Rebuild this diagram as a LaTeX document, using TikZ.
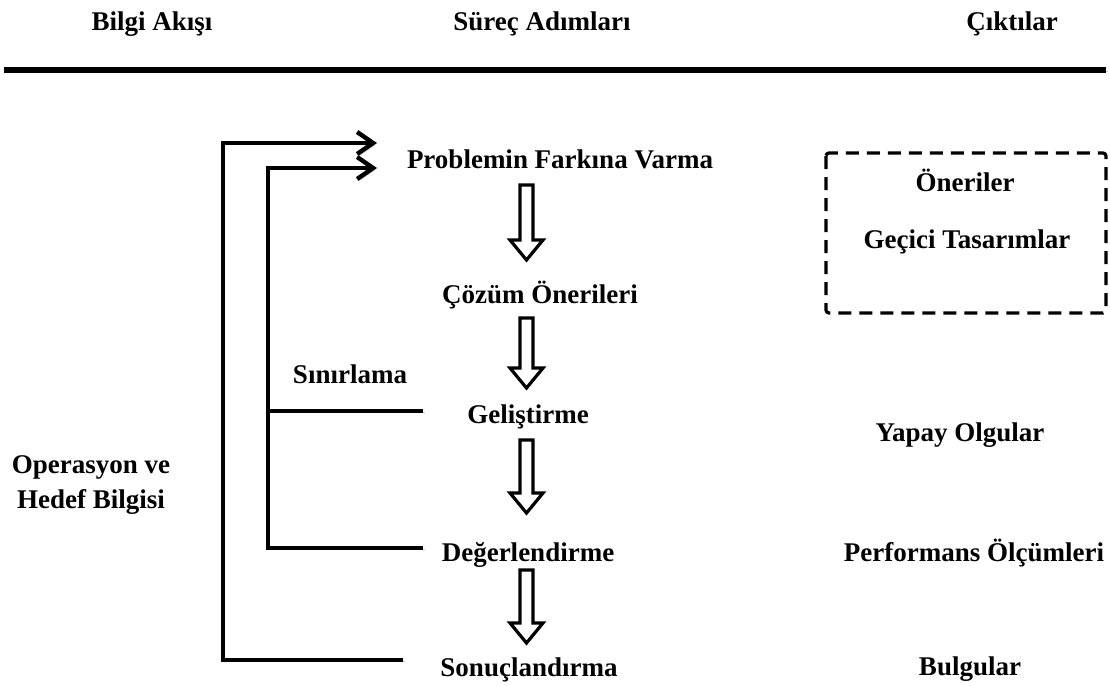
\documentclass[tikz,border=0pt]{standalone}
\usepackage{fontspec}
\setmainfont{Liberation Serif}
\usetikzlibrary{arrows.meta,positioning,calc}

\begin{document}
\begin{tikzpicture}[
    x=0.5pt, y=-0.5pt,
    font=\bfseries\fontsize{13.5}{17.5}\selectfont,
    txt/.style={anchor=base, inner sep=0pt},
    shade/.style={preaction={draw=black!22, transform canvas={shift={(0.9pt,-0.9pt)}}}},
    link/.style={shade, line width=2.2pt},
    tip/.style={-{Straight Barb[length=8pt,width=11pt]}},
    blk/.style={draw, line width=1.6pt, line join=miter, fill=white},
    dashbox/.style={draw, line width=1.6pt, dash pattern=on 6.5pt off 4pt, rounded corners=1.5pt},
    ]
\useasboundingbox (0,0) rectangle (1110,686);

% column heads
\node[txt] (hbilgi) at (152,30) {Bilgi Akışı};
\node[txt] (hsurec) at (542,30) {Süreç Adımları};
\node[txt] (hcikti) at (1012,30) {Çıktılar};
\draw[shade, line width=2.6pt] (4,70) -- (1106,70);

% process steps
\node[txt] (prb) at (560,168) {Problemin Farkına Varma};
\node[txt] (czm) at (540,303) {Çözüm Önerileri};
\node[txt] (gls) at (528,423) {Geliştirme};
\node[txt] (dgr) at (528,561) {Değerlendirme};
\node[txt] (snc) at (529,676) {Sonuçlandırma};

\foreach \t/\b in {185/260, 318/388, 440/513, 570/643}
  \draw[blk] (520,\t) -- (533,\t) -- (533,{\b-20}) -- (543,{\b-20})
             -- (526.5,\b) -- (510,{\b-20}) -- (520,{\b-20}) -- cycle;

% information flow
\node[txt] (snr) at (350,383) {Sınırlama};
\node[align=center, inner sep=0pt] (ohb) at (91,485) {Operasyon ve\\Hedef Bilgisi};

\coordinate (outend) at (403,660);
\coordinate (outx) at (223,400);
\coordinate (outtip) at (377,143);
\coordinate (inend) at (423,548);
\coordinate (inx) at (268,400);
\coordinate (intip) at (377,168);
\coordinate (inmid) at (268,411);
\coordinate (glsend) at (423,411);

\draw[link, tip] (outend) -| (outx) |- (outtip);
\draw[link, tip] (inend) -| (inx) |- (intip);
\draw[link] (inmid) -- (glsend);

% outputs
\draw[dashbox] (826,153) rectangle (1106,313);
\node[txt] (onr) at (965,191) {Öneriler};
\node[txt] (gec) at (967,248) {Geçici Tasarımlar};
\node[txt] (ypy) at (960,441) {Yapay Olgular};
\node[txt] (prf) at (974,561) {Performans Ölçümleri};
\node[txt] (blg) at (970,675) {Bulgular};
\end{tikzpicture}
\end{document}
